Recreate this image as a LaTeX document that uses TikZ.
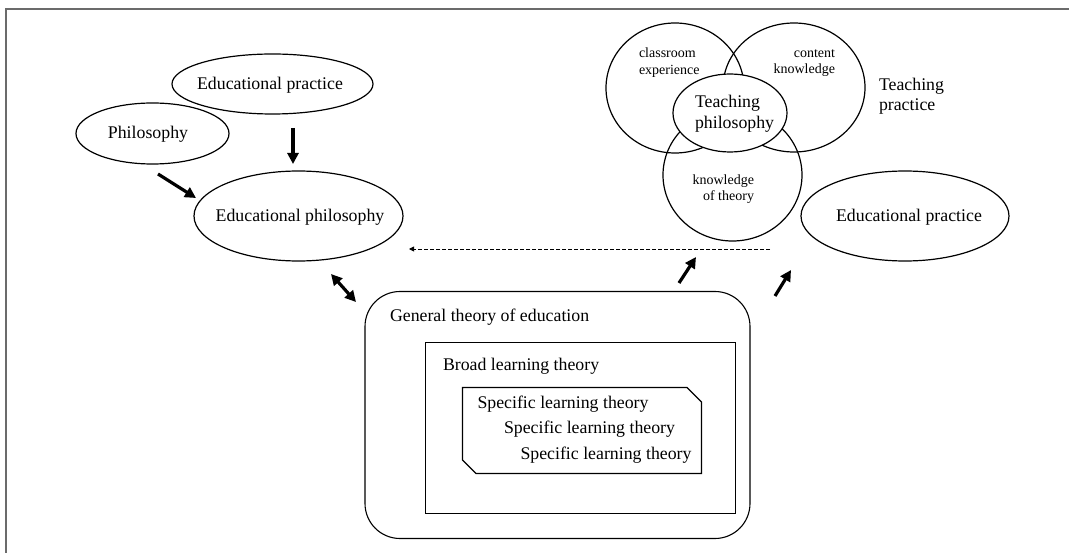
\documentclass[tikz,border=0pt]{standalone}
\usepackage{fontspec}
\setmainfont{Liberation Serif}
\usetikzlibrary{arrows.meta,shapes.geometric,shapes.misc}

\begin{document}
\begin{tikzpicture}[x=1pt,y=-1pt,
  every node/.style={inner sep=0pt,outer sep=0pt},
  big/.style={font=\fontsize{17.8}{21}\selectfont},
  small/.style={font=\fontsize{14}{17}\selectfont},
  oval/.style={ellipse,draw,line width=1.2pt},
  box/.style={draw,line width=1.1pt},
  flow/.style={line width=3.2pt,-{Triangle[length=11pt,width=11pt]}},
  both/.style={line width=3.2pt,{Triangle[length=11pt,width=11pt]}-{Triangle[length=11pt,width=11pt]}},
  link/.style={line width=0.9pt,dash pattern=on 4pt off 2pt,-{Triangle[length=5pt,width=5pt]}}
]
\useasboundingbox (0,0) rectangle (1069,553);

% open frame along the top and left
\draw[line width=2pt,color=black!58] (5.5,553) -- (5.5,9.5) -- (1069,9.5);

% left group: sources of an educational philosophy
\node[oval,minimum width=201,minimum height=60] (edpracL) at (272.5,84) {};
\node[big] (edpracLt) at (270,85) {Educational practice};
\node[oval,minimum width=153,minimum height=61] (phil) at (152.5,133.5) {};
\node[big] (philt) at (148,134) {Philosophy};
\node[oval,minimum width=209,minimum height=90] (edphil) at (298.5,216) {};
\node[big] (edphilt) at (300,217) {Educational philosophy};

% teaching practice cluster
\node[oval,minimum width=138,minimum height=130] (classroom) at (675,88) {};
\node[oval,minimum width=142,minimum height=129] (content) at (794,87.5) {};
\node[oval,minimum width=139,minimum height=132] (theory) at (732.5,175) {};
\node[oval,fill=white,minimum width=114,minimum height=78] (teachphil) at (730,113) {};

\node[small,anchor=base west] (cl1) at (639,58) {classroom};
\node[small,anchor=base west] (cl2) at (639,75) {experience};
\node[small,anchor=base east] (co1) at (835,58) {content};
\node[small,anchor=base east] (co2) at (835,74) {knowledge};
\node[small,anchor=base east] (th1) at (754,185) {knowledge};
\node[small,anchor=base east] (th2) at (754,201) {of theory};
\node[big,anchor=base west] (tp1) at (695,107.5) {Teaching};
\node[big,anchor=base west] (tp2) at (695,129) {philosophy};

\node[big,anchor=base west] (tpr1) at (879,91) {Teaching};
\node[big,anchor=base west] (tpr2) at (879,111) {practice};

\node[oval,minimum width=208,minimum height=90] (edpracR) at (905,216) {};
\node[big] (edpracRt) at (909,217) {Educational practice};

% nested theories
\node[box,rounded corners=35pt,minimum width=385,minimum height=247] (general) at (557.5,415) {};
\node[big,anchor=base west] (generalt) at (390,322) {General theory of education};
\node[box,minimum width=310,minimum height=171] (broad) at (580.5,428) {};
\node[big,anchor=base west] (broadt) at (443,371) {Broad learning theory};
\draw[box] (462.5,387.5) coordinate (sp1) -- (687,387.5) -- (701.5,402) -- (701.5,473.5) -- (476,473.5) -- (462.5,460) -- cycle;
\node[big,anchor=base west] (spec1) at (477.5,408.3) {Specific learning theory};
\node[big,anchor=base west] (spec2) at (504,434) {Specific learning theory};
\node[big,anchor=base west] (spec3) at (520.5,459.3) {Specific learning theory};

% connectors
\coordinate (a1s) at (293,128);  \coordinate (a1e) at (293,164);
\coordinate (a2s) at (158,174);  \coordinate (a2e) at (196,198);
\coordinate (d1) at (331,274);   \coordinate (d2) at (356,302);
\coordinate (u1s) at (679,283);  \coordinate (u1e) at (696,257);
\coordinate (u2s) at (775,296);  \coordinate (u2e) at (791,270);
\coordinate (ls) at (770,249);   \coordinate (le) at (409,249);

\draw[flow] (a1s) -- (a1e);
\draw[flow] (a2s) -- (a2e);
\draw[both] (d1) -- (d2);
\draw[flow] (u1s) -- (u1e);
\draw[flow] (u2s) -- (u2e);
\draw[link] (ls) -- (le);
\end{tikzpicture}
\end{document}
